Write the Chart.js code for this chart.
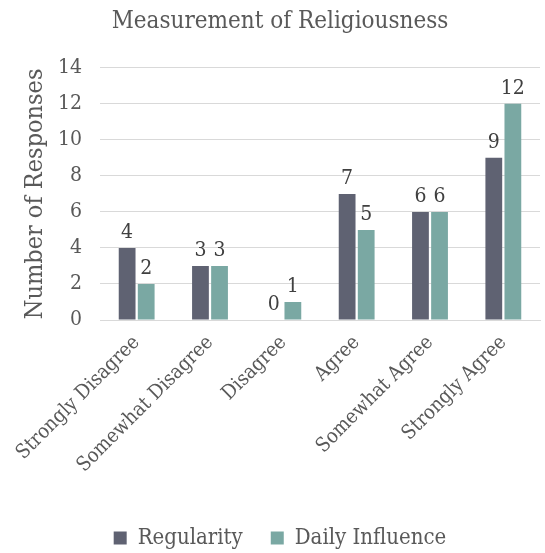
<!DOCTYPE html>
<html>
<head>
<meta charset="utf-8">
<script src="https://cdn.jsdelivr.net/npm/chart.js@4"></script>
<style>
  body { margin: 0; background: #fff; }
  #wrap { width: 545px; height: 553px; }
</style>
</head>
<body>
<div id="wrap"><canvas id="religion-chart"></canvas></div>
<script>
const categories = ['Strongly Disagree', 'Somewhat Disagree', 'Disagree', 'Agree', 'Somewhat Agree', 'Strongly Agree'];
const regularity = [4, 3, 0, 7, 6, 9];
const dailyInfluence = [2, 3, 1, 5, 6, 12];
const yTicks = [0, 2, 4, 6, 8, 10, 12, 14];

const FONT = "'DejaVu Serif Condensed', 'DejaVu Serif', serif";
const TEXT = '#595959';

// draws the numbers over each bar
const valueLabels = {
    id: 'valueLabels',
    afterDatasetsDraw(chart) {
        const ctx = chart.ctx;
        ctx.save();
        ctx.font = `21px ${FONT}`;
        ctx.fillStyle = '#404040';
        ctx.textAlign = 'center';
        ctx.textBaseline = 'bottom';
        chart.data.datasets.forEach((ds, i) => {
            chart.getDatasetMeta(i).data.forEach((bar, j) => {
                ctx.fillText(ds.data[j], bar.x, bar.y - 5);
            });
        });
        ctx.restore();
    }
};

const ctx = document.getElementById('religion-chart');

new Chart(ctx, {
    type: 'bar',
    data: {
        labels: categories,
        datasets: [
            {
                label: 'Regularity',
                data: regularity,
                backgroundColor: '#5f6272',
                barPercentage: 0.88,
                categoryPercentage: 0.52
            },
            {
                label: 'Daily Influence',
                data: dailyInfluence,
                backgroundColor: '#7aa8a3',
                barPercentage: 0.88,
                categoryPercentage: 0.52
            }
        ]
    },
    options: {
        responsive: true,
        maintainAspectRatio: false,
        animation: false,
        // small negative bottom padding pushes the legend a bit lower
        layout: { padding: { left: 20, right: 5, top: 4, bottom: -6 } },
        plugins: {
            title: {
                display: true,
                text: 'Measurement of Religiousness',
                color: TEXT,
                font: { family: FONT, size: 24, weight: 'normal' },
                padding: { top: 3, bottom: 32 }
            },
            legend: {
                position: 'bottom',
                labels: {
                    color: TEXT,
                    font: { family: FONT, size: 22 },
                    boxWidth: 13,
                    boxHeight: 13,
                    padding: 28
                }
            },
            tooltip: { enabled: false }
        },
        scales: {
            x: {
                grid: { display: false },
                border: { color: '#d9d9d9' },
                afterFit(axis) { axis.height = 179; },
                ticks: {
                    color: TEXT,
                    font: { family: FONT, size: 20 },
                    minRotation: 45,
                    maxRotation: 45
                }
            },
            y: {
                min: 0,
                max: 14,
                afterBuildTicks(axis) {
                    axis.ticks = yTicks.map(v => ({ value: v }));
                },
                afterFit(axis) { axis.width = 80; },
                grid: { color: '#d9d9d9', drawTicks: false },
                border: { display: false },
                ticks: {
                    color: TEXT,
                    font: { family: FONT, size: 21 },
                    padding: 18
                },
                title: {
                    display: true,
                    text: 'Number of Responses',
                    color: TEXT,
                    font: { family: FONT, size: 25 },
                    padding: 0
                }
            }
        }
    },
    plugins: [valueLabels]
});
</script>
</body>
</html>
